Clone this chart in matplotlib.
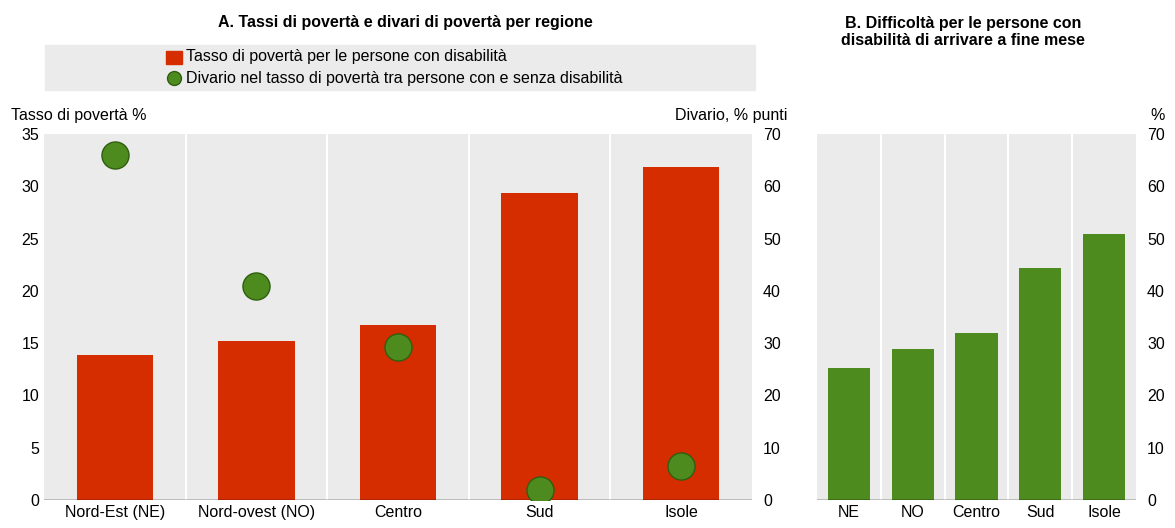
import matplotlib.pyplot as plt
import numpy as np
plt.rcParams['font.family']=['Liberation Sans','DejaVu Sans']

regA=['Nord-Est (NE)','Nord-ovest (NO)','Centro','Sud','Isole']
tasso=[13.9,15.2,16.7,29.4,31.8]
divario=[66,41,29.2,2,6.5]
regB=['NE','NO','Centro','Sud','Isole']
diff=[25.2,28.8,32.0,44.3,50.8]
red='#d62d00'; green='#4d8b1e'; bg='#ebebeb'
fs=11.5
fig=plt.figure(figsize=(11.75,5.28),dpi=100)
W,H=1175,528
axA=fig.add_axes([44/W,1-500/H,708/W,366/H])
axB=fig.add_axes([817/W,1-500/H,319/W,366/H])
for ax in (axA,axB):
    ax.set_facecolor(bg)
    for s in ax.spines.values(): s.set_visible(False)
    ax.tick_params(length=0,labelsize=fs)
    ax.set_xlim(-0.5,4.5)
    for x in np.arange(0.5,4.5,1): ax.axvline(x,color='white',lw=1.5,zorder=0)
    ax.axhline(0,color='black',lw=1,zorder=5)
x=np.arange(5)
axA.bar(x,tasso,0.54,color=red,zorder=2)
axA.set_ylim(0,35); axA.set_yticks(range(0,36,5))
axA.set_xticks(x); axA.set_xticklabels(regA)
axA2=axA.twinx()
for s in axA2.spines.values(): s.set_visible(False)
axA2.set_ylim(0,70); axA2.set_yticks(range(0,71,10)); axA2.tick_params(length=0,labelsize=fs,pad=8)
axA2.scatter(x,divario,s=380,color=green,edgecolor='#2f5e10',zorder=4)
axA.text(-0.047,1.03,'Tasso di povertà %',transform=axA.transAxes,ha='left',va='bottom',fontsize=fs)
axA.text(1.05,1.03,'Divario, % punti',transform=axA.transAxes,ha='right',va='bottom',fontsize=fs)
fig.text(405/W,1-22/H,'A. Tassi di povertà e divari di povertà per regione',ha='center',va='center',fontsize=fs,weight='bold')
from matplotlib.patches import Rectangle
fig.patches.append(Rectangle((45/W,1-90/H),710/W,45/H,transform=fig.transFigure,color=bg,zorder=0))
fig.patches.append(Rectangle((166/W,1-64/H),16/W,13/H,transform=fig.transFigure,color=red))
fig.text(186/W,1-57/H,'Tasso di povertà per le persone con disabilità',fontsize=fs,va='center')
fig.lines.append(plt.Line2D([174/W],[1-78/H],marker='o',ms=10,color=green,mec='#2f5e10',transform=fig.transFigure))
fig.text(186/W,1-78/H,'Divario nel tasso di povertà tra persone con e senza disabilità',fontsize=fs,va='center')

axB.bar(x,diff,0.66,color=green,zorder=2)
axB.set_ylim(0,70); axB.set_yticks(range(0,71,10))
axB.yaxis.tick_right(); axB.tick_params(axis='y',pad=8)
axB.set_xticks(x); axB.set_xticklabels(regB)
axB.text(1.09,1.03,'%',transform=axB.transAxes,ha='right',va='bottom',fontsize=fs)
fig.text(963/W,1-32/H,'B. Difficoltà per le persone con\ndisabilità di arrivare a fine mese',ha='center',va='center',fontsize=fs,weight='bold')
fig.savefig('out.png')
